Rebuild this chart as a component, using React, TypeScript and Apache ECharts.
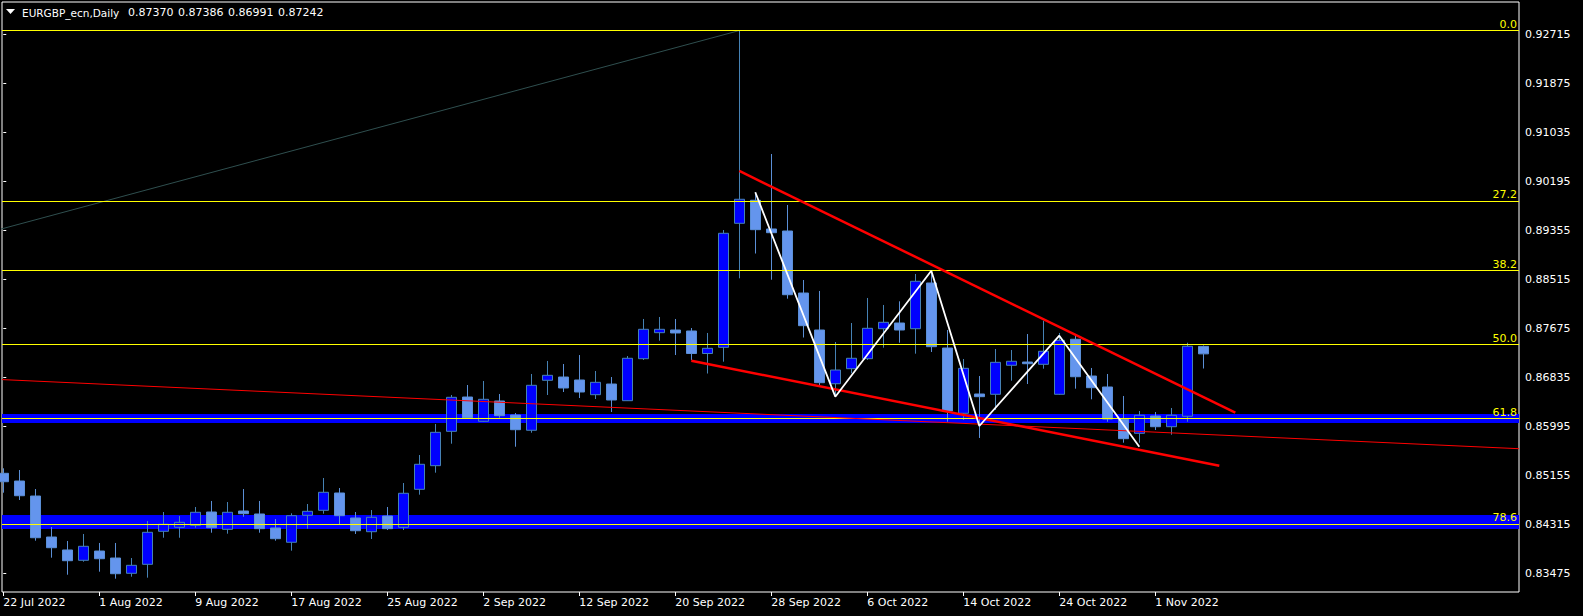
import React, { useEffect, useRef } from 'react';
import * as echarts from 'echarts';

const symbolTitle = 'EURGBP_ecn,Daily';

// Daily OHLC, bar 0 = 22 Jul 2022
const opens = [
  0.85194, 0.85062, 0.84805, 0.84102, 0.83880, 0.83703, 0.83862, 0.83742, 0.83480, 0.83634,
  0.84200, 0.84269, 0.84303, 0.84531, 0.84234, 0.84548, 0.84497, 0.84257, 0.84012, 0.84474,
  0.84560, 0.84857, 0.84428, 0.84193, 0.84462, 0.84269, 0.84920, 0.85325, 0.85914, 0.86502,
  0.86086, 0.86434, 0.86194, 0.85932, 0.86789, 0.86845, 0.86794, 0.86542, 0.86725, 0.86439,
  0.87159, 0.87605, 0.87651, 0.87634, 0.87248, 0.87354, 0.89480, 0.89875, 0.89383, 0.89348,
  0.88285, 0.87651, 0.86730, 0.86988, 0.87159, 0.87673, 0.87771, 0.87673, 0.88457, 0.87342,
  0.86223, 0.86554, 0.86549, 0.87046, 0.87102, 0.87063, 0.86549, 0.87492, 0.86862, 0.86674,
  0.86120, 0.85880, 0.86177, 0.85993, 0.86172, 0.87370,
];
const highs = [
  0.85280, 0.85251, 0.84925, 0.84274, 0.84034, 0.84154, 0.84000, 0.84000, 0.83742, 0.84377,
  0.84531, 0.84462, 0.84617, 0.84720, 0.84702, 0.84925, 0.84720, 0.84411, 0.84509, 0.84668,
  0.85114, 0.84942, 0.84531, 0.84565, 0.84617, 0.85028, 0.85508, 0.86040, 0.86537, 0.86708,
  0.86777, 0.86554, 0.86228, 0.86897, 0.87120, 0.87068, 0.87222, 0.86948, 0.86845, 0.87205,
  0.87840, 0.87874, 0.87840, 0.87685, 0.87600, 0.89365, 0.92784, 0.90012, 0.90668, 0.89794,
  0.88508, 0.88320, 0.87445, 0.87771, 0.88200, 0.88080, 0.88143, 0.88611, 0.88668, 0.87651,
  0.87154, 0.86862, 0.87325, 0.87308, 0.87582, 0.87810, 0.87600, 0.87548, 0.87000, 0.86897,
  0.86520, 0.86262, 0.86245, 0.86314, 0.87433, 0.87386,
];
const lows = [
  0.84862, 0.84737, 0.84039, 0.83748, 0.83456, 0.83679, 0.83508, 0.83388, 0.83422, 0.83405,
  0.84090, 0.84090, 0.84262, 0.84176, 0.84159, 0.84450, 0.84176, 0.84039, 0.83868, 0.84245,
  0.84502, 0.84325, 0.84154, 0.84068, 0.84222, 0.84222, 0.84828, 0.85205, 0.85702, 0.86125,
  0.86080, 0.86148, 0.85650, 0.85890, 0.86537, 0.86588, 0.86485, 0.86468, 0.86245, 0.86435,
  0.87137, 0.87468, 0.87222, 0.87137, 0.86905, 0.87108, 0.88537, 0.88962, 0.88513, 0.88188,
  0.87522, 0.86691, 0.86508, 0.86909, 0.87137, 0.87348, 0.87433, 0.87245, 0.87274, 0.86079,
  0.86108, 0.85800, 0.86280, 0.86782, 0.86725, 0.86988, 0.86540, 0.86645, 0.86463, 0.86079,
  0.85719, 0.85719, 0.85937, 0.85856, 0.86079, 0.86991,
];
const closes = [
  0.85050, 0.84810, 0.84090, 0.83919, 0.83696, 0.83943, 0.83730, 0.83473, 0.83617, 0.84183,
  0.84320, 0.84354, 0.84526, 0.84262, 0.84526, 0.84502, 0.84245, 0.84073, 0.84468, 0.84543,
  0.84869, 0.84468, 0.84210, 0.84440, 0.84245, 0.84852, 0.85349, 0.85897, 0.86497, 0.86148,
  0.86463, 0.86182, 0.85942, 0.86703, 0.86874, 0.86657, 0.86588, 0.86754, 0.86451, 0.87166,
  0.87663, 0.87663, 0.87600, 0.87248, 0.87337, 0.89309, 0.89892, 0.89371, 0.89319, 0.88256,
  0.87725, 0.86748, 0.86965, 0.87166, 0.87680, 0.87783, 0.87651, 0.88486, 0.87365, 0.86262,
  0.86994, 0.86508, 0.87097, 0.87115, 0.87073, 0.87286, 0.87474, 0.86850, 0.86662, 0.86125,
  0.85788, 0.86189, 0.85993, 0.86189, 0.87372, 0.87242,
];

const tickIndex = [0, 6, 12, 18, 24, 30, 36, 42, 48, 54, 60, 66, 72];
const tickLabels = [
  '22 Jul 2022', '1 Aug 2022', '9 Aug 2022', '17 Aug 2022', '25 Aug 2022', '2 Sep 2022',
  '12 Sep 2022', '20 Sep 2022', '28 Sep 2022', '6 Oct 2022', '14 Oct 2022', '24 Oct 2022', '1 Nov 2022',
];
const priceTicks = [
  0.83475, 0.84315, 0.85155, 0.85995, 0.86835, 0.87675, 0.88515, 0.89355, 0.90195, 0.91035, 0.91875, 0.92715,
];

const fibHigh = 0.92784;
const fibLow = 0.82018;
const fibLevels = [0, 27.2, 38.2, 50.0, 61.8, 78.6];
const fibLabels = ['0.0', '27.2', '38.2', '50.0', '61.8', '78.6'];
const fibBaseLine = [[-100, fibLow], [46, fibHigh]];

const supportBands = [[0.86211, 0.86057], [0.84480, 0.84240]];
const thinRayAnchors = [[0, 0.8680], [80, 0.8580]];
const upperChannel = [[46, 0.90377], [77, 0.86233]];
const lowerChannel = [[43, 0.87125], [76, 0.85323]];
const zigzag = [[47, 0.90012], [52, 0.86508], [58, 0.88668], [61, 0.86005], [66, 0.87553], [71, 0.85650]];

const X_MIN = -0.08;
const X_MAX = 94.73;
const Y_MIN = 0.831596;
const Y_MAX = 0.932739;

const FONT = 'DejaVu Sans';

export default function App() {
  const ref = useRef<HTMLDivElement>(null);

  useEffect(() => {
    document.body.style.margin = '0';
    document.body.style.background = '#000';
    if (!ref.current) return;
    const chart = echarts.init(ref.current, undefined, { renderer: 'svg' });

    const candles = opens.map((o, i) => [i, o, closes[i], lows[i], highs[i]]);
    const last = opens.length - 1;
    const f5 = (v: number) => v.toFixed(5);
    const headerValues = [opens[last], highs[last], lows[last], closes[last]];

    const raySlope = (thinRayAnchors[1][1] - thinRayAnchors[0][1]) / (thinRayAnchors[1][0] - thinRayAnchors[0][0]);
    const rayAt = (x: number) => thinRayAnchors[0][1] + raySlope * (x - thinRayAnchors[0][0]);

    const headerTexts = headerValues.map((v, k) => ({
      type: 'text',
      x: 128 + k * 50,
      y: 12.5,
      style: {
        text: f5(v),
        fill: '#FFFFFF',
        fontSize: 11,
        fontFamily: FONT,
        verticalAlign: 'middle',
      },
      z: 100,
    }));

    const option: any = {
      animation: false,
      backgroundColor: '#000000',
      textStyle: { fontFamily: FONT },
      grid: {
        left: 2,
        right: 64,
        top: 2,
        bottom: 24,
        show: true,
        borderColor: '#FFFFFF',
        borderWidth: 1,
        backgroundColor: '#000000',
      },
      xAxis: {
        type: 'value',
        min: X_MIN,
        max: X_MAX,
        splitLine: { show: false },
        axisLine: { show: false },
        axisTick: {
          show: true,
          length: 4,
          lineStyle: { color: '#FFFFFF' },
          customValues: tickIndex,
        },
        axisLabel: {
          color: '#FFFFFF',
          fontFamily: FONT,
          fontSize: 11,
          margin: 5,
          align: 'left',
          customValues: tickIndex,
          formatter: (v: number) => {
            const k = tickIndex.indexOf(Math.round(v));
            return k >= 0 ? tickLabels[k] : '';
          },
        },
      },
      yAxis: {
        type: 'value',
        position: 'right',
        min: Y_MIN,
        max: Y_MAX,
        scale: true,
        splitLine: { show: false },
        axisLine: { show: false },
        axisTick: {
          show: true,
          length: 3,
          lineStyle: { color: '#FFFFFF' },
          customValues: priceTicks,
        },
        axisLabel: {
          color: '#FFFFFF',
          fontFamily: FONT,
          fontSize: 11,
          margin: 6,
          customValues: priceTicks,
          formatter: (v: number) => f5(v),
        },
      },
      graphic: [
        {
          type: 'polygon',
          shape: { points: [[6, 9], [15, 9], [10.5, 14]] },
          style: { fill: '#FFFFFF' },
          z: 100,
        },
        {
          type: 'text',
          x: 22,
          y: 12.5,
          style: {
            text: symbolTitle,
            fill: '#FFFFFF',
            fontSize: 10.5,
            fontFamily: FONT,
            verticalAlign: 'middle',
          },
          z: 100,
        },
        ...headerTexts,
      ],
      series: [
        {
          name: 'bands',
          type: 'line',
          data: [],
          z: 1,
          silent: true,
          markArea: {
            silent: true,
            itemStyle: { color: '#0000FF', opacity: 1 },
            data: supportBands.map((b) => [{ yAxis: b[0] }, { yAxis: b[1] }]),
          },
        },
        {
          name: 'EURGBP',
          type: 'candlestick',
          z: 2,
          barWidth: 10,
          data: candles,
          encode: { x: 0, y: [1, 2, 3, 4] },
          itemStyle: {
            color: '#0000FF',
            color0: '#6495ED',
            borderColor: '#4682B4',
            borderColor0: '#5B8FD6',
            borderWidth: 1,
          },
        },
        {
          name: 'fibBase',
          type: 'line',
          z: 3,
          symbol: 'none',
          silent: true,
          data: fibBaseLine,
          lineStyle: { color: '#2F4F4F', width: 1 },
        },
        {
          name: 'fib',
          type: 'line',
          data: [],
          z: 4,
          silent: true,
          markLine: {
            silent: true,
            precision: 5,
            symbol: ['none', 'none'],
            lineStyle: { color: '#FFFF00', width: 1, type: 'solid' },
            label: {
              show: true,
              position: 'insideEndTop',
              color: '#FFFF00',
              fontFamily: FONT,
              fontSize: 11,
              distance: [2, 1],
            },
            data: fibLevels.map((lv, k) => ({
              yAxis: fibHigh - ((fibHigh - fibLow) * lv) / 100,
              label: { formatter: fibLabels[k] },
            })),
          },
        },
        {
          name: 'ray',
          type: 'line',
          z: 5,
          symbol: 'none',
          silent: true,
          data: [[X_MIN, rayAt(X_MIN)], [X_MAX, rayAt(X_MAX)]],
          lineStyle: { color: '#FF0000', width: 1 },
        },
        {
          name: 'upper',
          type: 'line',
          z: 6,
          symbol: 'none',
          silent: true,
          data: upperChannel,
          lineStyle: { color: '#FF0000', width: 2.5 },
        },
        {
          name: 'lower',
          type: 'line',
          z: 6,
          symbol: 'none',
          silent: true,
          data: lowerChannel,
          lineStyle: { color: '#FF0000', width: 2.5 },
        },
        {
          name: 'zigzag',
          type: 'line',
          z: 7,
          symbol: 'none',
          silent: true,
          data: zigzag,
          lineStyle: { color: '#FFFFFF', width: 1.8 },
        },
        {
          name: 'last',
          type: 'line',
          data: [],
          z: 10,
          silent: true,
          markLine: {
            silent: true,
            precision: 5,
            symbol: ['none', 'none'],
            lineStyle: { opacity: 0, width: 0 },
            label: {
              show: true,
              position: 'end',
              distance: 1,
              color: '#000000',
              backgroundColor: '#FFFFFF',
              padding: [2, 5, 1, 5],
              fontFamily: FONT,
              fontSize: 11,
              formatter: f5(closes[last]),
            },
            data: [{ yAxis: closes[last] }],
          },
        },
      ],
    };

    chart.setOption(option);
    return () => chart.dispose();
  }, []);

  return <div ref={ref} style={{ width: 1583, height: 616, background: '#000' }} />;
}
